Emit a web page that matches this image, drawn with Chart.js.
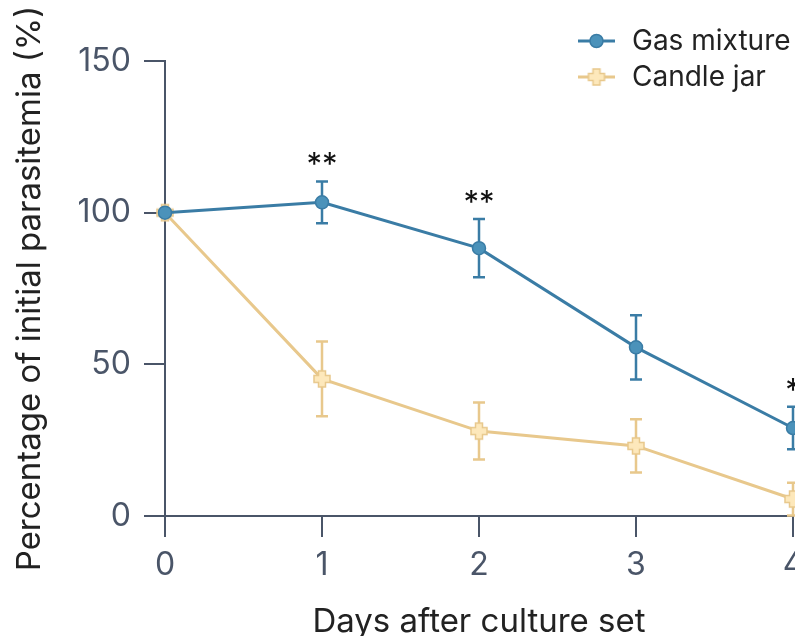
<!DOCTYPE html>
<html>
<head>
<meta charset="utf-8">
<script src="https://cdn.jsdelivr.net/npm/chart.js@4/dist/chart.umd.min.js"></script>
<style>
html, body { margin: 0; padding: 0; overflow: hidden; background: #fff; }
#wrap { width: 795px; height: 636px; overflow: hidden; }
</style>
</head>
<body>
<div id="wrap"><canvas id="myChart" width="830" height="636"></canvas></div>
<script>
// data
var days = ['0', '1', '2', '3', '4'];
var gasMixture = [100, 103.4, 88.3, 55.6, 29.0];
var gasError = [0, 6.9, 9.6, 10.6, 7.0];
var candleJar = [100, 45.2, 28.0, 23.1, 5.6];
var candleError = [0, 12.3, 9.4, 8.8, 5.4];
var stars = ['', '**', '**', '', '*'];

var blue = '#3a7ca5';
var blueFill = '#4b92ba';
var sand = '#e8c88c';
var sandFill = '#fde8bb';
var axisColor = '#4a5568';

// plus shaped marker for the candle jar series
function plusMarker() {
  var c = document.createElement('canvas');
  c.width = 20; c.height = 20;
  var g = c.getContext('2d');
  var a = 3.5, b = 8, m = 10;
  g.beginPath();
  g.moveTo(m - a, m - b); g.lineTo(m + a, m - b); g.lineTo(m + a, m - a);
  g.lineTo(m + b, m - a); g.lineTo(m + b, m + a); g.lineTo(m + a, m + a);
  g.lineTo(m + a, m + b); g.lineTo(m - a, m + b); g.lineTo(m - a, m + a);
  g.lineTo(m - b, m + a); g.lineTo(m - b, m - a); g.lineTo(m - a, m - a);
  g.closePath();
  g.fillStyle = sandFill; g.fill();
  g.lineWidth = 1.5; g.strokeStyle = sand; g.stroke();
  return c;
}
var plus = plusMarker();

// error bars, drawn under the points
var errorBars = {
  id: 'errorBars',
  beforeDatasetsDraw: function(chart) {
    var ctx = chart.ctx, x = chart.scales.x, y = chart.scales.y;
    var sets = [[gasMixture, gasError, blue], [candleJar, candleError, sand]];
    ctx.save();
    ctx.lineWidth = 2.5;
    sets.forEach(function(s) {
      ctx.strokeStyle = s[2];
      for (var i = 0; i < s[0].length; i++) {
        if (!s[1][i]) continue;
        var px = x.getPixelForValue(i);
        var top = y.getPixelForValue(s[0][i] + s[1][i]);
        var bot = y.getPixelForValue(Math.max(0, s[0][i] - s[1][i]));
        ctx.beginPath();
        ctx.moveTo(px, top); ctx.lineTo(px, bot);
        ctx.moveTo(px - 6, top); ctx.lineTo(px + 6, top);
        ctx.moveTo(px - 6, bot); ctx.lineTo(px + 6, bot);
        ctx.stroke();
      }
    });
    ctx.restore();
  },
  afterDatasetsDraw: function(chart) {
    var ctx = chart.ctx, x = chart.scales.x, y = chart.scales.y;
    ctx.save();
    ctx.fillStyle = '#111';
    ctx.font = '31px Inter';
    ctx.textAlign = 'center';
    ctx.textBaseline = 'alphabetic';
    for (var i = 0; i < stars.length; i++) {
      if (!stars[i]) continue;
      var top = y.getPixelForValue(gasMixture[i] + gasError[i]);
      ctx.fillText(stars[i], x.getPixelForValue(i), top - 6);
    }
    ctx.restore();
  },
  afterDraw: function(chart) {
    // legend: line + marker, then label
    var ctx = chart.ctx;
    var rows = [['Gas mixture', blue, 'circle', 41], ['Candle jar', sand, 'plus', 77]];
    ctx.save();
    rows.forEach(function(r) {
      ctx.strokeStyle = r[1];
      ctx.lineWidth = 3;
      ctx.beginPath();
      ctx.moveTo(578, r[3]); ctx.lineTo(615, r[3]);
      ctx.stroke();
      if (r[2] === 'circle') {
        ctx.beginPath();
        ctx.arc(596.5, r[3], 6.5, 0, Math.PI * 2);
        ctx.fillStyle = blueFill; ctx.fill();
        ctx.lineWidth = 1.5; ctx.strokeStyle = blue; ctx.stroke();
      } else {
        ctx.drawImage(plus, 586.5, r[3] - 10);
      }
      ctx.fillStyle = '#222';
      ctx.font = '28px Inter';
      ctx.textAlign = 'left';
      ctx.textBaseline = 'middle';
      ctx.fillText(r[0], 632, r[3] + 1);
    });
    ctx.restore();
  }
};

var ctx = document.getElementById('myChart').getContext('2d');

var config = {
  type: 'line',
  data: {
    labels: days,
    datasets: [{
      label: 'Gas mixture',
      data: gasMixture,
      borderColor: blue,
      backgroundColor: blueFill,
      borderWidth: 3,
      pointRadius: 6.5,
      pointBorderWidth: 1.5,
      pointBorderColor: blue,
      pointBackgroundColor: blueFill,
      tension: 0,
      clip: false
    }, {
      label: 'Candle jar',
      data: candleJar,
      borderColor: sand,
      backgroundColor: sandFill,
      borderWidth: 3,
      pointStyle: plus,
      tension: 0,
      clip: false
    }]
  },
  options: {
    responsive: false,
    animation: false,
    layout: { padding: { top: 61, right: 37, left: 0, bottom: 0 } },
    plugins: {
      legend: { display: false },
      tooltip: { enabled: false }
    },
    scales: {
      x: {
        offset: false,
        grid: { drawOnChartArea: false, tickLength: 21, color: axisColor, lineWidth: 2 },
        border: { color: axisColor, width: 2 },
        ticks: { color: axisColor, font: { family: 'Inter', size: 32 }, padding: 9, maxRotation: 0 },
        title: { display: true, text: 'Days after culture set', color: '#222', font: { family: 'Inter', size: 33 }, padding: { top: 0, bottom: -6 } },
        afterFit: function(s) { s.height = 120; }
      },
      y: {
        min: 0, max: 150,
        grid: { drawOnChartArea: false, tickLength: 21, color: axisColor, lineWidth: 2 },
        border: { color: axisColor, width: 2 },
        ticks: { stepSize: 50, color: axisColor, font: { family: 'Inter', size: 32 }, padding: 13 },
        title: { display: true, text: 'Percentage of initial parasitemia (%)', color: '#222', font: { family: 'Inter', size: 33 }, padding: { top: 10 } },
        afterFit: function(s) { s.width = 165; }
      }
    }
  },
  plugins: [errorBars]
};

var chart = new Chart(ctx, config);
</script>
</body>
</html>
